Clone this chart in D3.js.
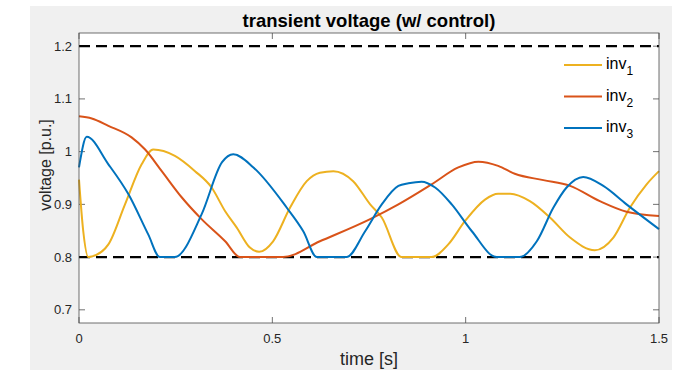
<!DOCTYPE html>
<html>
<head>
<meta charset="utf-8">
<script src="https://cdn.jsdelivr.net/npm/d3@7"></script>
<style>
  body { margin: 0; background: #fff; }
  svg text { font-family: "Liberation Sans", Arial, Helvetica, sans-serif; }
</style>
</head>
<body>
<div id="chart"></div>
<script>
// time [s] and voltage [p.u.]
var inv1T = [0, 0.011, 0.024, 0.033, 0.076, 0.119, 0.162, 0.192, 0.248, 0.300, 0.343, 0.378, 0.408, 0.442, 0.466, 0.502, 0.546, 0.589, 0.623, 0.658, 0.709, 0.753, 0.783, 0.834, 0.912, 0.955, 0.998, 1.050, 1.084, 1.115, 1.166, 1.218, 1.270, 1.334, 1.382, 1.425, 1.468, 1.5];
var inv1V = [0.947, 0.849, 0.800, 0.801, 0.824, 0.900, 0.976, 1.004, 0.992, 0.963, 0.932, 0.887, 0.856, 0.818, 0.810, 0.830, 0.894, 0.944, 0.960, 0.963, 0.944, 0.900, 0.875, 0.800, 0.800, 0.824, 0.868, 0.909, 0.920, 0.920, 0.906, 0.875, 0.837, 0.813, 0.837, 0.894, 0.938, 0.963];

var inv2T = [0, 0.033, 0.076, 0.136, 0.171, 0.214, 0.266, 0.317, 0.378, 0.416, 0.528, 0.623, 0.753, 0.826, 0.912, 0.981, 1.033, 1.084, 1.127, 1.201, 1.270, 1.347, 1.416, 1.5];
var inv2V = [1.067, 1.063, 1.049, 1.027, 1.004, 0.963, 0.913, 0.872, 0.830, 0.800, 0.800, 0.830, 0.872, 0.900, 0.938, 0.970, 0.981, 0.973, 0.958, 0.946, 0.935, 0.906, 0.886, 0.878];

var inv3T = [0, 0.020, 0.076, 0.128, 0.179, 0.209, 0.248, 0.317, 0.370, 0.399, 0.451, 0.537, 0.580, 0.615, 0.692, 0.740, 0.783, 0.826, 0.852, 0.886, 0.921, 0.964, 1.016, 1.080, 1.140, 1.184, 1.227, 1.261, 1.304, 1.356, 1.416, 1.5];
var inv3V = [0.970, 1.028, 0.976, 0.919, 0.843, 0.800, 0.800, 0.881, 0.980, 0.995, 0.970, 0.894, 0.849, 0.800, 0.800, 0.849, 0.900, 0.935, 0.940, 0.943, 0.932, 0.900, 0.849, 0.800, 0.800, 0.830, 0.894, 0.932, 0.952, 0.935, 0.900, 0.853];

var seriesNames = ["1", "2", "3"];
var seriesColors = ["#EDB120", "#D95319", "#0072BD"];
var limits = [1.2, 0.8];
var xTicks = [0, 0.5, 1, 1.5];
var yTicks = [0.7, 0.8, 0.9, 1, 1.1, 1.2];

var width = 680, height = 370;
var m = {left: 79, right: 659, top: 33, bottom: 323};

var svg = d3.select("#chart").append("svg")
  .attr("width", width)
  .attr("height", height);

// figure background
svg.append("rect")
  .attr("x", 30).attr("y", 6)
  .attr("width", 642).attr("height", height - 6)
  .attr("fill", "#f0f0f0");

var x = d3.scaleLinear().domain([0, 1.5]).range([m.left, m.right]);
var y = d3.scaleLinear().domain([0.675, 1.225]).range([m.bottom, m.top]);

svg.append("rect")
  .attr("x", m.left).attr("y", m.top)
  .attr("width", m.right - m.left).attr("height", m.bottom - m.top)
  .attr("fill", "#fff");

var axisColor = "#4d4d4d";

// inward ticks on all four sides
var ticksG = svg.append("g").attr("stroke", axisColor).attr("stroke-width", 0.8);
xTicks.forEach(function(t) {
  ticksG.append("line").attr("x1", x(t)).attr("x2", x(t)).attr("y1", m.bottom).attr("y2", m.bottom - 6);
  ticksG.append("line").attr("x1", x(t)).attr("x2", x(t)).attr("y1", m.top).attr("y2", m.top + 6);
});
yTicks.forEach(function(t) {
  ticksG.append("line").attr("x1", m.left).attr("x2", m.left + 6).attr("y1", y(t)).attr("y2", y(t));
  ticksG.append("line").attr("x1", m.right).attr("x2", m.right - 6).attr("y1", y(t)).attr("y2", y(t));
});

// limit lines
limits.forEach(function(l) {
  svg.append("line")
    .attr("x1", x(0)).attr("x2", x(1.5))
    .attr("y1", y(l)).attr("y2", y(l))
    .attr("stroke", "#000")
    .attr("stroke-width", 2.2)
    .attr("stroke-dasharray", "11,6");
});

var line = d3.line()
  .x(function(d) { return x(d[0]); })
  .y(function(d) { return y(d[1]); })
  .curve(d3.curveMonotoneX);

var series = [d3.zip(inv1T, inv1V), d3.zip(inv2T, inv2V), d3.zip(inv3T, inv3V)];

svg.append("g").selectAll("path")
  .data(series)
  .enter().append("path")
  .attr("d", line)
  .attr("fill", "none")
  .attr("stroke", function(d, i) { return seriesColors[i]; })
  .attr("stroke-width", 2)
  .attr("stroke-linejoin", "round");

// box
svg.append("rect")
  .attr("x", m.left).attr("y", m.top)
  .attr("width", m.right - m.left).attr("height", m.bottom - m.top)
  .attr("fill", "none")
  .attr("stroke", axisColor)
  .attr("stroke-width", 0.8);

// tick labels
svg.append("g").selectAll("text")
  .data(xTicks)
  .enter().append("text")
  .attr("x", function(d) { return x(d); })
  .attr("y", 343)
  .attr("text-anchor", "middle")
  .attr("font-size", 13)
  .attr("fill", "#262626")
  .text(function(d) { return d3.format("")(d); });

svg.append("g").selectAll("text")
  .data(yTicks)
  .enter().append("text")
  .attr("x", 72)
  .attr("y", function(d) { return y(d) + 4.5; })
  .attr("text-anchor", "end")
  .attr("font-size", 13)
  .attr("fill", "#262626")
  .text(function(d) { return d3.format("")(d); });

// labels
svg.append("text")
  .attr("x", 369).attr("y", 365)
  .attr("text-anchor", "middle")
  .attr("font-size", 18)
  .attr("fill", "#262626")
  .text("time [s]");

svg.append("text")
  .attr("transform", "translate(51,165) rotate(-90)")
  .attr("text-anchor", "middle")
  .attr("font-size", 16)
  .attr("fill", "#262626")
  .text("voltage [p.u.]");

svg.append("text")
  .attr("x", 369).attr("y", 27)
  .attr("text-anchor", "middle")
  .attr("font-size", 18.5)
  .attr("font-weight", "bold")
  .attr("fill", "#000")
  .text("transient voltage (w/ control)");

// legend
var legend = svg.append("g").selectAll("g")
  .data(seriesNames)
  .enter().append("g")
  .attr("transform", function(d, i) { return "translate(0," + (65 + i * 31.5) + ")"; });

legend.append("line")
  .attr("x1", 564).attr("x2", 602)
  .attr("y1", 0).attr("y2", 0)
  .attr("stroke", function(d, i) { return seriesColors[i]; })
  .attr("stroke-width", 2);

var lt = legend.append("text")
  .attr("x", 606).attr("y", 4)
  .attr("font-size", 16)
  .attr("fill", "#000");
lt.append("tspan").text("inv");
lt.append("tspan")
  .attr("dy", 6)
  .attr("font-size", 12)
  .text(function(d) { return d; });
</script>
</body>
</html>
